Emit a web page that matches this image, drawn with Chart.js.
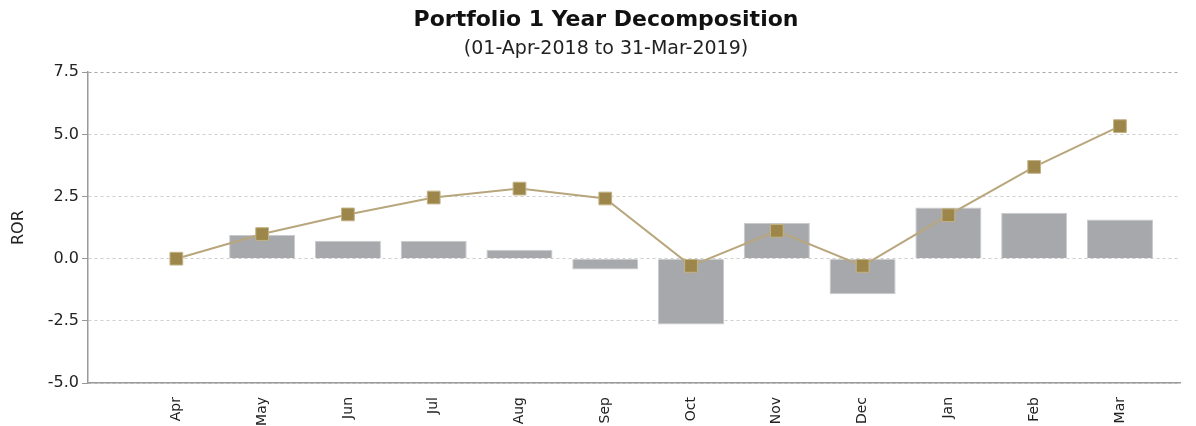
<!DOCTYPE html>
<html>
<head>
<meta charset="utf-8">
<script src="https://cdn.jsdelivr.net/npm/chart.js@4"></script>
<style>
  html, body { margin: 0; padding: 0; background: #fff; }
  #wrap { width: 1196px; height: 426px; }
</style>
</head>
<body>
<div id="wrap"><canvas id="grafico" width="1196" height="426"></canvas></div>
<script>
// categorias e valores
const meses = ['Apr', 'May', 'Jun', 'Jul', 'Aug', 'Sep', 'Oct', 'Nov', 'Dec', 'Jan', 'Feb', 'Mar'];
const retornoMensal = [0.02, 0.95, 0.72, 0.72, 0.36, -0.44, -2.65, 1.43, -1.43, 2.06, 1.85, 1.58];
const retornoAcumulado = [0.0, 0.99, 1.78, 2.46, 2.82, 2.42, -0.29, 1.12, -0.29, 1.75, 3.69, 5.33];
const ticksY = [-5.0, -2.5, 0.0, 2.5, 5.0, 7.5];

const fonte = "'DejaVu Sans', sans-serif";

const ctx = document.getElementById('grafico').getContext('2d');

new Chart(ctx, {
  type: 'bar',
  data: {
    datasets: [
      {
        type: 'line',
        label: 'Acumulado',
        data: retornoAcumulado.map((v, i) => ({ x: i, y: v })),
        borderColor: '#b8a67c',
        borderWidth: 2,
        pointStyle: 'rect',
        pointRadius: 9,
        pointBackgroundColor: '#9c8649',
        pointBorderColor: '#c2b286',
        pointBorderWidth: 1,
        tension: 0,
        order: 0
      },
      {
        type: 'bar',
        label: 'Mensal',
        data: retornoMensal.map((v, i) => ({ x: i, y: v })),
        backgroundColor: '#a7a8ac',
        borderColor: '#c9cacd',
        borderWidth: 1,
        barPercentage: 0.77,
        categoryPercentage: 1,
        order: 1
      }
    ]
  },
  options: {
    responsive: false,
    animation: false,
    layout: { padding: { left: 16, right: 0, top: 0, bottom: 0 } },
    plugins: {
      legend: { display: false },
      tooltip: { enabled: false },
      title: {
        display: true,
        text: 'Portfolio 1 Year Decomposition',
        color: '#111',
        font: { family: fonte, size: 22, weight: 'bold' },
        padding: { top: 7, bottom: 4 }
      },
      subtitle: {
        display: true,
        text: '(01-Apr-2018 to 31-Mar-2019)',
        color: '#222',
        font: { family: fonte, size: 19 },
        padding: { top: 0, bottom: 12 }
      }
    },
    scales: {
      x: {
        type: 'linear',
        offset: false,
        min: -1.03,
        max: 11.7,
        afterBuildTicks: (scale) => {
          scale.ticks = meses.map((m, i) => ({ value: i }));
        },
        afterFit: (scale) => { scale.height = 43; },
        grid: { display: false },
        border: { display: true, color: '#9a9a9a', width: 1.5 },
        ticks: {
          autoSkip: false,
          minRotation: 90,
          maxRotation: 90,
          padding: 6,
          color: '#222',
          font: { family: fonte, size: 14 },
          callback: (v) => meses[v]
        }
      },
      y: {
        min: -5,
        max: 7.5,
        afterBuildTicks: (scale) => {
          scale.ticks = ticksY.map(v => ({ value: v }));
        },
        afterFit: (scale) => { scale.width = 72; },
        title: {
          display: true,
          text: 'ROR',
          color: '#222',
          font: { family: fonte, size: 16 },
          padding: { top: -7, bottom: 0 }
        },
        grid: {
          color: (c) => (c.tick && c.tick.value === 7.5 ? '#a8a8a8' : '#cfcfcf'),
          lineWidth: 1,
          tickLength: 6,
          tickColor: '#9a9a9a'
        },
        border: { display: true, color: '#9a9a9a', width: 1.5, dash: [3, 3] },
        ticks: {
          padding: 3,
          color: '#222',
          font: { family: fonte, size: 16 },
          callback: (v) => Number(v).toFixed(1)
        }
      },
      // eixo vazio só para reservar a margem direita
      margem: {
        position: 'right',
        afterFit: (scale) => { scale.width = 16; },
        grid: { display: false },
        border: { display: false },
        ticks: { display: false }
      }
    }
  }
});
</script>
</body>
</html>
